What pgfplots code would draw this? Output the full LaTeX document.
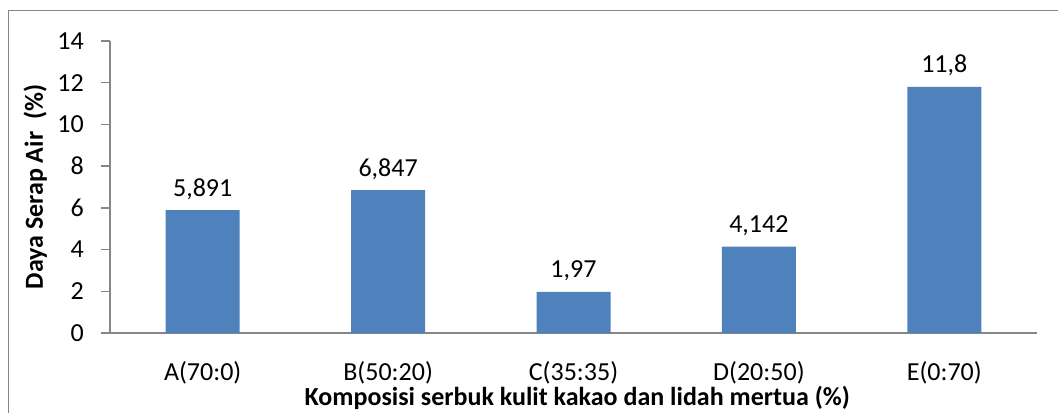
\documentclass[border=0pt]{standalone}
\usepackage{pgfplots}
\pgfplotsset{compat=1.18}
\usepackage{fontspec}
\setmainfont{Carlito}
\definecolor{barblue}{HTML}{4F81BD}
\definecolor{axgray}{HTML}{868686}
\pgfplotstableread{
x y lab
0 5.891 5,891
1 6.847 6,847
2 1.97 1,97
3 4.142 4,142
4 11.8 11,8
}\datatable
\begin{document}
\fontsize{26bp}{30bp}\selectfont
\begin{tikzpicture}[x=1bp,y=1bp]
\useasboundingbox (0,0) rectangle (1058,412);
\draw[axgray, line width=1.6bp] (8.5,-20) -- (8.5,401.5) -- (1080,401.5);
\begin{axis}[
  at={(110bp,79bp)}, anchor=south west,
  scale only axis, width=927bp, height=292bp,
  xmin=-0.5, xmax=4.5, ymin=0, ymax=14,
  axis x line=bottom, axis y line=left,
  axis line style={axgray, line width=1.3bp, -},
  ytick={0,2,...,14},
  xtick={0,1,2,3,4},
  xticklabels={A(70:0),B(50:20),C(35:35),D(20:50),E(0:70)},
  tick align=outside, major tick length=9bp,
  y tick style={axgray, line width=1.3bp},
  x tick style={draw=none},
  /pgf/number format/assume math mode=true,
  tick label style={font=\fontsize{26bp}{30bp}\selectfont},
  yticklabel style={anchor=east, inner sep=0pt, xshift=-17bp},
  xticklabel style={anchor=base, inner sep=0pt, yshift=-38bp},
  xlabel={Komposisi serbuk kulit kakao dan lidah mertua (\%)},
  ylabel={Daya Serap Air\ \ (\%)},
  label style={font=\fontsize{26bp}{30bp}\selectfont\bfseries},
  xlabel style={at={(axis description cs:0.504,-0.248)}, anchor=base},
  ylabel style={at={(axis description cs:-0.0723,0.5)}, anchor=base},
  clip=false,
]
\addplot[ybar, bar width=74bp, fill=barblue, draw=none,
  nodes near coords, point meta=explicit symbolic,
  every node near coord/.append style={font=\fontsize{26bp}{30bp}\selectfont, black, anchor=base, inner sep=0pt, yshift=14bp}]
  table[x=x, y=y, meta=lab] {\datatable};
\end{axis}
\end{tikzpicture}
\end{document}
